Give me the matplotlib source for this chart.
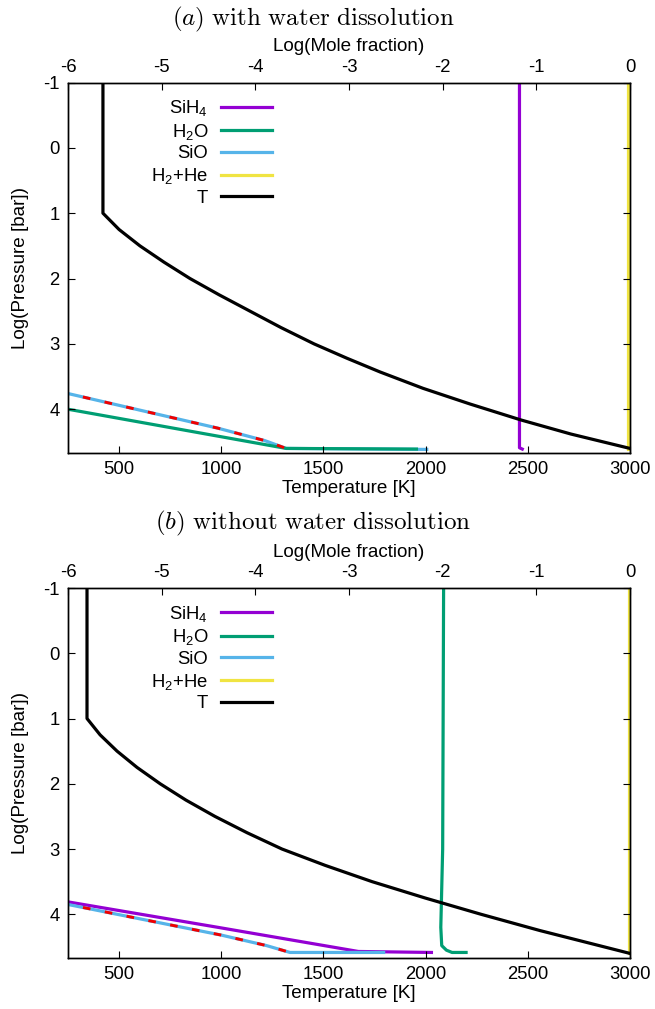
import matplotlib
matplotlib.use("Agg")
import matplotlib.pyplot as plt

plt.rcParams['font.family'] = ['Liberation Sans', 'DejaVu Sans']
plt.rcParams['mathtext.fontset'] = 'custom'
plt.rcParams['mathtext.rm'] = 'Liberation Sans'
plt.rcParams['mathtext.it'] = 'Liberation Sans:italic'
plt.rcParams['axes.unicode_minus'] = False
plt.rcParams['lines.scale_dashes'] = False

# ---------------- data ----------------
temp_ticks = [500, 1000, 1500, 2000, 2500, 3000]
frac_ticks = [-6, -5, -4, -3, -2, -1, 0]
pres_ticks = [-1, 0, 1, 2, 3, 4]
labels = ["SiH$_4$", "H$_2$O", "SiO", "H$_2$+He", "T"]
titles = [r"$(a)\ \mathrm{with\ water\ dissolution}$",
          r"$(b)\ \mathrm{without\ water\ dissolution}$"]

# panel (a): with water dissolution
a_T_temp = [421, 421, 500, 602, 720, 847, 990, 1141, 1292, 1454, 1615, 1777,
            1987, 2217, 2467, 2711, 3000]
a_T_logp = [-1.0, 1.0, 1.25, 1.5, 1.75, 2.0, 2.25, 2.5, 2.75, 3.0, 3.22, 3.43,
            3.68, 3.92, 4.165, 4.38, 4.60]
a_SiH4_x = [-1.18, -1.18, -1.15]
a_SiH4_p = [-1.0, 4.59, 4.61]
a_H2O_x = [-6.0, -3.67, -2.28]
a_H2O_p = [4.00, 4.60, 4.61]
a_SiO_x = [-6.0, -4.40, -3.90, -3.67, -2.17]
a_SiO_p = [3.76, 4.29, 4.48, 4.60, 4.615]
a_red_x = [-6.0, -4.40, -3.90, -3.67]
a_red_p = [3.76, 4.29, 4.48, 4.60]
a_H2He_x = [-0.02, -0.02]
a_H2He_p = [-1.0, 4.61]

# panel (b): without water dissolution
b_T_temp = [343, 343, 407, 490, 588, 701, 827, 969, 1126, 1297, 1508, 1738,
            1997, 2271, 2560, 3000]
b_T_logp = [-1.0, 1.0, 1.25, 1.5, 1.75, 2.0, 2.25, 2.5, 2.75, 3.0, 3.25, 3.5,
            3.75, 4.0, 4.25, 4.60]
b_SiH4_x = [-6.0, -4.40, -2.90, -2.12]
b_SiH4_p = [3.81, 4.20, 4.57, 4.585]
b_H2O_x = [-1.99, -2.00, -2.02, -2.01, -1.96, -1.90, -1.75]
b_H2O_p = [-1.0, 3.0, 4.20, 4.48, 4.55, 4.585, 4.585]
b_SiO_x = [-6.0, -4.36, -3.88, -3.63, -2.63]
b_SiO_p = [3.85, 4.32, 4.48, 4.585, 4.585]
b_red_x = [-6.0, -4.36, -3.88, -3.63]
b_red_p = [3.85, 4.32, 4.48, 4.585]
b_H2He_x = [-0.008, -0.008]
b_H2He_p = [-1.0, 4.60]

panels = [
    dict(T=(a_T_temp, a_T_logp), SiH4=(a_SiH4_x, a_SiH4_p), H2O=(a_H2O_x, a_H2O_p),
         SiO=(a_SiO_x, a_SiO_p), red=(a_red_x, a_red_p), H2He=(a_H2He_x, a_H2He_p)),
    dict(T=(b_T_temp, b_T_logp), SiH4=(b_SiH4_x, b_SiH4_p), H2O=(b_H2O_x, b_H2O_p),
         SiO=(b_SiO_x, b_SiO_p), red=(b_red_x, b_red_p), H2He=(b_H2He_x, b_H2He_p)),
]

colors = dict(SiH4="#9400d3", H2O="#009e73", SiO="#56b4e9", H2He="#f0e442",
              T="black", red="#f00000")

W, H = 655, 1009
fig = plt.figure(figsize=(W / 100, H / 100), dpi=100)

ax_px = [(68, 82.5, 630, 453), (68, 588, 630, 958)]
title_y = [19, 523]
FS = 13.3
FL = 13.6
LW = 2.3

for i, (d, (x0, y0, x1, y1)) in enumerate(zip(panels, ax_px)):
    rect = [x0 / W, 1 - y1 / H, (x1 - x0) / W, (y1 - y0) / H]
    ax = fig.add_axes(rect)
    axt = ax.twiny()
    ax.set_zorder(axt.get_zorder() + 1)
    ax.patch.set_visible(False)

    h_sih4, = axt.plot(*d["SiH4"], color=colors["SiH4"], lw=LW, label=labels[0])
    h_sio, = axt.plot(*d["SiO"], color=colors["SiO"], lw=LW, label=labels[2])
    h_h2o, = axt.plot(*d["H2O"], color=colors["H2O"], lw=LW, label=labels[1])
    h_h2he, = axt.plot(*d["H2He"], color=colors["H2He"], lw=LW, label=labels[3])
    axt.plot(*d["red"], color=colors["red"], lw=2.1,
             linestyle=(5.0, (5.5, 10.5)), solid_capstyle='butt')
    h_t, = ax.plot(*d["T"], color=colors["T"], lw=LW, label=labels[4])

    ax.set_xlim(250, 3000)
    ax.set_ylim(4.67, -1)
    axt.set_xlim(-6, 0)
    axt.set_ylim(4.67, -1)
    ax.set_xticks(temp_ticks)
    ax.set_yticks(pres_ticks)
    axt.set_xticks(frac_ticks)
    ax.tick_params(axis='x', direction='in', length=5, width=0.8,
                   labelsize=FS, pad=6)
    ax.tick_params(axis='y', direction='in', length=5, width=0.8,
                   labelsize=FS, pad=6, right=True)
    axt.tick_params(axis='x', direction='in', length=5, width=0.8,
                    labelsize=FS, pad=5)
    axt.tick_params(axis='y', right=False, labelright=False)
    ax.set_xlabel("Temperature [K]", fontsize=FL, labelpad=1)
    ax.set_ylabel("Log(Pressure [bar])", fontsize=FL, labelpad=10.5)
    axt.set_xlabel("Log(Mole fraction)", fontsize=FL, labelpad=5.2)
    for a in (ax, axt):
        for s in a.spines.values():
            s.set_linewidth(1.0)

    ax.legend([h_sih4, h_h2o, h_sio, h_h2he, h_t], labels, loc='upper right',
              bbox_to_anchor=(0.363, 0.958), frameon=False, markerfirst=False,
              fontsize=FS, handlelength=2.76, handletextpad=0.69,
              labelspacing=0.2, borderpad=0, borderaxespad=0)

    fig.text(0.478, 1 - title_y[i] / H, titles[i], math_fontfamily='cm',
             fontsize=18, ha='center', va='center')

fig.savefig("out.png", dpi=100)
